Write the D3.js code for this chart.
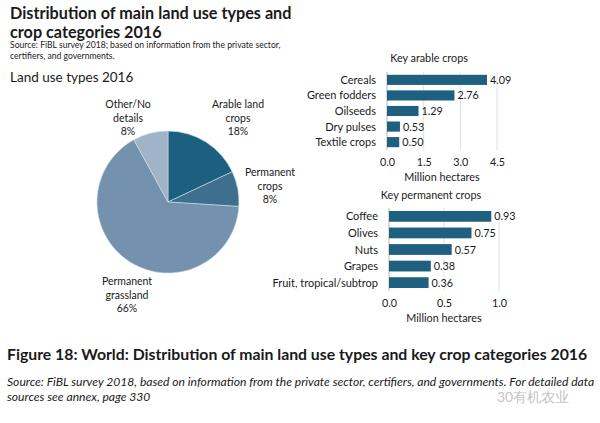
<!DOCTYPE html>
<html><head><meta charset="utf-8">
<script src="https://cdn.jsdelivr.net/npm/d3@7"></script>
<style>body{margin:0;background:#fff}svg{display:block}text{font-family:Lato,"Open Sans",sans-serif;fill:#1a1a1a}</style>
</head><body><svg id="c" width="600" height="423"></svg>
<script>
const landTypes = ["Arable land crops", "Permanent crops", "Permanent grassland", "Other/No details"];
const landShares = [18, 8, 66, 8];
const landLabelLines = [["Arable land","crops","18%"],["Permanent","crops","8%"],["Permanent","grassland","66%"],["Other/No","details","8%"]];
const arableCrops = ["Cereals", "Green fodders", "Oilseeds", "Dry pulses", "Textile crops"];
const arableValues = [4.09, 2.76, 1.29, 0.53, 0.50];
const arableTicks = [0, 1.5, 3.0, 4.5];
const permCrops = ["Coffee", "Olives", "Nuts", "Grapes", "Fruit, tropical/subtrop"];
const permValues = [0.93, 0.75, 0.57, 0.38, 0.36];
const permTicks = [0, 0.5, 1.0];

const svg = d3.select("#c");
const pieColors = ["#1c5f7f", "#3f6f8f", "#7492ad", "#a1b4c7"];
const barColor = "#1f5f7f";

// Titles
svg.append("text").attr("x",10).attr("y",19).attr("font-size",16.2).attr("font-weight",700).text("Distribution of main land use types and");
svg.append("text").attr("x",10).attr("y",38).attr("font-size",16.2).attr("font-weight",700).text("crop categories 2016");
svg.append("text").attr("x",10).attr("y",48).attr("font-size",8.6).text("Source: FiBL survey 2018; based on information from the private sector,");
svg.append("text").attr("x",10).attr("y",59).attr("font-size",8.6).text("certifiers, and governments.");
svg.append("text").attr("x",10).attr("y",82).attr("font-size",13.5).text("Land use types 2016");

// Pie
const cx = 168, cy = 202, r = 71;
const pie = d3.pie().sort(null).value(d => d)(landShares);
const arc = d3.arc().innerRadius(0).outerRadius(r);
const pg = svg.append("g").attr("transform", `translate(${cx},${cy})`);
pg.selectAll("path").data(pie).join("path").attr("d", arc)
  .attr("fill", (d,i) => pieColors[i]).attr("stroke","#cfdde8").attr("stroke-width",0.6);
const labelPos = [[238,108],[270,176],[127,285],[128,108]];
landLabelLines.forEach((lines, i) => {
  const [lx, ly] = labelPos[i];
  const t = svg.append("text").attr("x", lx).attr("y", ly).attr("text-anchor","middle").attr("font-size",10.5);
  lines.forEach((s, j) => t.append("tspan").attr("x", lx).attr("dy", j===0?0:13.7).text(s));
});

function barChart(cats, vals, ticks, maxV, x0, x1, y0, y1, title, titleY) {
  const g = svg.append("g");
  const x = d3.scaleLinear().domain([0, maxV]).range([x0, x1]);
  const y = d3.scaleBand().domain(cats).range([y0, y1]).paddingInner(0.35).paddingOuter(0.18);
  g.selectAll("line.grid").data(ticks).join("line").attr("x1", d=>x(d)).attr("x2", d=>x(d))
    .attr("y1", y0).attr("y2", y1).attr("stroke", "#d8d8d8").attr("stroke-width", 0.8);
  g.append("line").attr("x1", x0).attr("x2", x0).attr("y1", y0).attr("y2", y1).attr("stroke","#bbb").attr("stroke-width",0.8);
  g.selectAll("rect").data(vals).join("rect").attr("x", x0).attr("y", (d,i)=>y(cats[i]))
    .attr("width", d => x(d)-x0).attr("height", y.bandwidth()).attr("fill", barColor);
  g.selectAll("text.val").data(vals).join("text").attr("x", d => x(d)+3).attr("y", (d,i)=>y(cats[i])+y.bandwidth()/2+4)
    .attr("font-size", 10.8).text(d => d.toFixed(2));
  g.selectAll("text.cat").data(cats).join("text").attr("x", x0-11).attr("y", d=>y(d)+y.bandwidth()/2+4)
    .attr("text-anchor","end").attr("font-size", 11).text(d => d);
  const ax = d3.axisBottom(x).tickValues(ticks).tickFormat(d3.format(".1f")).tickSize(0).tickPadding(8);
  const axg = g.append("g").attr("transform", `translate(0,${y1})`).call(ax);
  axg.select(".domain").remove();
  axg.selectAll("text").attr("font-size", 10.8).attr("fill","#1a1a1a").attr("font-family","Lato, sans-serif");
  g.append("text").attr("x", (x0+x1)/2).attr("y", y1+31).attr("text-anchor","middle").attr("font-size",10.8).text("Million hectares");
  g.append("text").attr("x", (x0+x1)/2 - 13).attr("y", titleY).attr("text-anchor","middle").attr("font-size",10.8).text(title);
}
barChart(arableCrops, arableValues, arableTicks, 4.5, 387, 497, 72, 150, "Key arable crops", 62);
barChart(permCrops, permValues, permTicks, 1.0, 389, 499, 208, 291, "Key permanent crops", 199);

// Caption
svg.append("text").attr("x",7).attr("y",360).attr("font-size",15.8).attr("font-weight",700).text("Figure 18: World: Distribution of main land use types and key crop categories 2016");
svg.append("text").attr("x",7).attr("y",386).attr("font-size",12.1).attr("font-style","italic").text("Source: FiBL survey 2018, based on information from the private sector, certifiers, and governments. For detailed data");
svg.append("text").attr("x",7).attr("y",401).attr("font-size",12.1).attr("font-style","italic").text("sources see annex, page 330");
svg.append("text").attr("x",497).attr("y",402).attr("font-size",14).style("fill","#c4c4c4").text("30有机农业");
</script></body></html>
